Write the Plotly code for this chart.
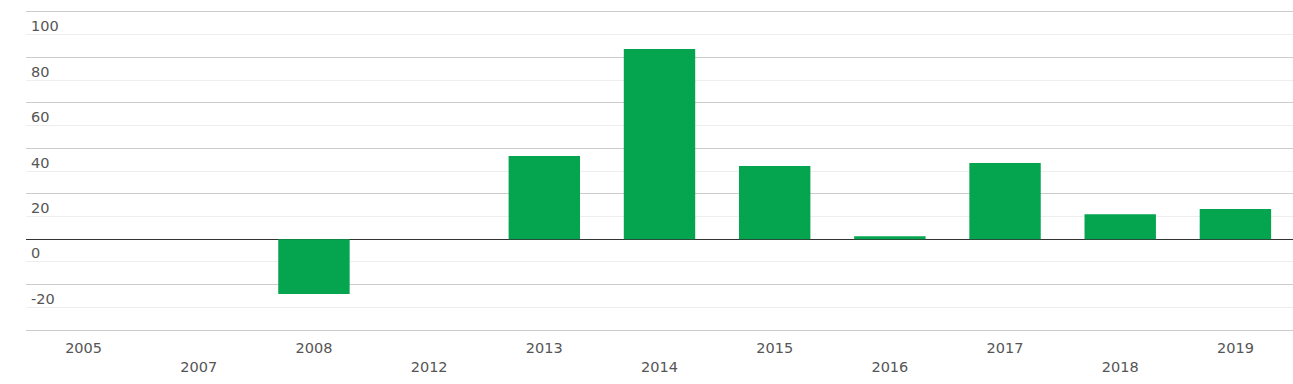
import plotly.graph_objects as go

years = ["2005", "2007", "2008", "2012", "2013", "2014", "2015", "2016", "2017", "2018", "2019"]
values = [None, None, -24.2, None, 36.6, 83.7, 32.2, 1.3, 33.5, 11.0, 13.3]
y_ticks = [-40, -20, 0, 20, 40, 60, 80, 100]
y_tick_labels = ["", "-20", "0", "20", "40", "60", "80", "100"]

x_tick_labels = [y if i % 2 == 0 else "<br>" + y for i, y in enumerate(years)]

fig = go.Figure(go.Bar(x=years, y=values, marker_color="#05a44f", marker_line_width=0))

fig.update_layout(
    width=1293, height=384,
    margin=dict(l=26, r=0, t=12, b=54),
    paper_bgcolor="white", plot_bgcolor="white",
    bargap=0.38,
    showlegend=False,
    font=dict(family="DejaVu Sans", size=14.5, color="#555555"),
)
fig.update_xaxes(
    type="category",
    categoryorder="array", categoryarray=years,
    range=[-0.5, len(years) - 0.5],
    tickvals=years, ticktext=x_tick_labels,
    showgrid=False, ticks="",
    showline=True, linecolor="#cccccc", linewidth=1, mirror=True,
    ticklabelstandoff=5,
    tickfont=dict(size=14.5, color="#555555"),
)
fig.update_yaxes(
    range=[-40, 100],
    tickvals=y_ticks, ticktext=y_tick_labels,
    showgrid=True, gridcolor="#cccccc", gridwidth=1,
    minor=dict(tickvals=[-30, -10, 10, 30, 50, 70, 90], showgrid=True, gridcolor="#eeeeee", gridwidth=1),
    zeroline=True, zerolinecolor="#333333", zerolinewidth=1,
    ticklabelposition="inside bottom",
    ticklabelshift=4,
    ticklabelstandoff=2,
    tickfont=dict(size=14.5, color="#555555"),
    showline=False, ticks="",
)

fig.write_html("out.html")
